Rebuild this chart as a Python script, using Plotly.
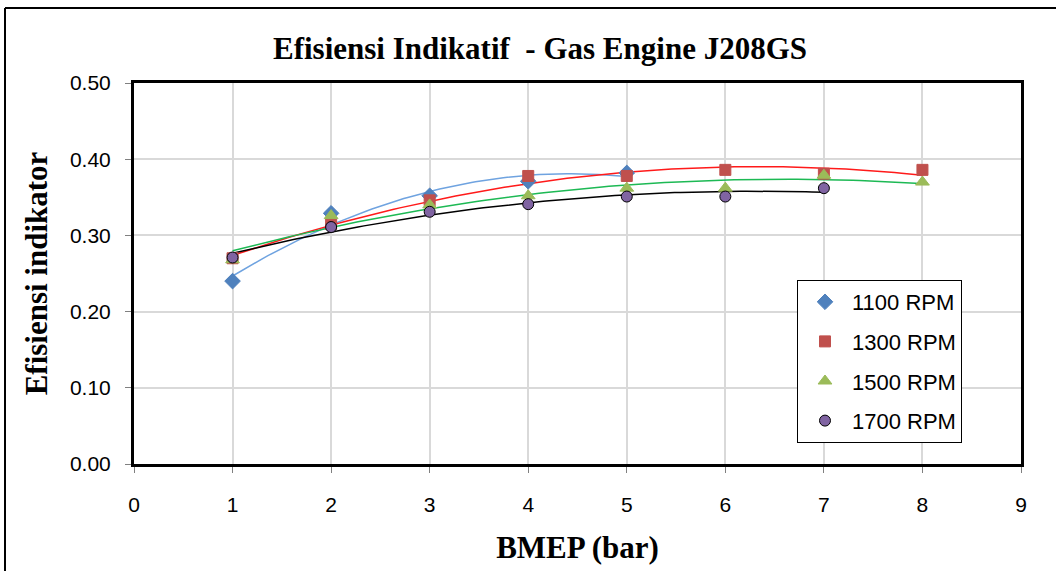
import numpy as np
import plotly.graph_objects as go

bmep_1100 = [1, 2, 3, 4, 5]
eff_1100 = [0.240, 0.329, 0.352, 0.371, 0.382]
bmep_1300 = [1, 2, 3, 4, 5, 6, 7, 8]
eff_1300 = [0.270, 0.315, 0.346, 0.378, 0.378, 0.386, 0.381, 0.386]
bmep_1500 = [1, 2, 3, 4, 5, 6, 7, 8]
eff_1500 = [0.268, 0.326, 0.340, 0.352, 0.362, 0.362, 0.379, 0.370]
bmep_1700 = [1, 2, 3, 4, 5, 6, 7]
eff_1700 = [0.271, 0.311, 0.331, 0.341, 0.351, 0.351, 0.362]

series = [
    ("1100 RPM", bmep_1100, eff_1100, "diamond", "#4F81BD", "#4F81BD", "#6FA3E0", 12),
    ("1300 RPM", bmep_1300, eff_1300, "square", "#C0504D", "#C0504D", "#FF1A1A", 11),
    ("1500 RPM", bmep_1500, eff_1500, "triangle-up", "#9BBB59", "#9BBB59", "#1DB954", 12),
    ("1700 RPM", bmep_1700, eff_1700, "circle", "#8064A2", "#000000", "#000000", 11),
]

fig = go.Figure()

# trendlines (2nd-order polynomial fit of each series)
for name, xs, ys, sym, col, lcol, tcol, sz in series:
    coef = np.polyfit(xs, ys, 2)
    xx = np.linspace(min(xs), max(xs), 100)
    fig.add_trace(go.Scatter(x=xx, y=np.polyval(coef, xx), mode="lines",
                             line=dict(color=tcol, width=1.5),
                             showlegend=False, hoverinfo="skip"))

for name, xs, ys, sym, col, lcol, tcol, sz in series:
    fig.add_trace(go.Scatter(x=xs, y=ys, mode="markers", name=name,
                             legendgroup=name,
                             marker=dict(symbol=sym, color=col, size=sz,
                                         line=dict(color=lcol, width=1))))

fig.update_layout(
    width=1056, height=571,
    margin=dict(l=134, r=35, t=83, b=107),
    paper_bgcolor="white", plot_bgcolor="white",
    title=dict(text="<b>Efisiensi Indikatif  - Gas Engine J208GS</b>",
               font=dict(family="Liberation Serif", size=31, color="black"),
               x=540/1056, xanchor="center", y=1-48/571, yanchor="middle"),
    legend=dict(x=(797-134)/887, y=(464-280)/381, xanchor="left", yanchor="top",
                bgcolor="white", bordercolor="black", borderwidth=1,
                font=dict(family="Liberation Sans", size=22, color="black"),
                tracegroupgap=8, itemwidth=44,
                entrywidth=210, entrywidthmode="pixels"),
    showlegend=True,
)

fig.update_xaxes(range=[0, 9], dtick=1, tick0=0,
                 showgrid=True, gridcolor="#D9D9D9", gridwidth=1.5,
                 showline=True, linecolor="black", linewidth=3, mirror=True,
                 ticks="outside", ticklen=6, tickcolor="#808080",
                 ticklabelstandoff=14,
                 tickfont=dict(family="Liberation Sans", size=21, color="black"),
                 title=dict(text="<b>BMEP (bar)</b>",
                            font=dict(family="Liberation Serif", size=31, color="black"),
                            standoff=22),
                 zeroline=False)
fig.update_yaxes(range=[0, 0.5], dtick=0.1, tickformat=".2f",
                 showgrid=True, gridcolor="#D9D9D9", gridwidth=1.5,
                 showline=True, linecolor="black", linewidth=3, mirror=True,
                 ticks="outside", ticklen=6, tickcolor="#808080",
                 ticklabelstandoff=10,
                 tickfont=dict(family="Liberation Sans", size=21, color="black"),
                 title=dict(text="<b>Efisiensi indikator</b>",
                            font=dict(family="Liberation Serif", size=31, color="black"),
                            standoff=14),
                 zeroline=False)

# outer chart frame (left and top edges visible)
fx = (5-134)/887
fy = (464-8)/381
fig.add_shape(type="line", xref="paper", yref="paper", x0=fx, x1=fx, y0=-0.4, y1=fy,
              line=dict(color="black", width=2))
fig.add_shape(type="line", xref="paper", yref="paper", x0=fx, x1=1.1, y0=fy, y1=fy,
              line=dict(color="black", width=2))

fig.write_html("out.html")
